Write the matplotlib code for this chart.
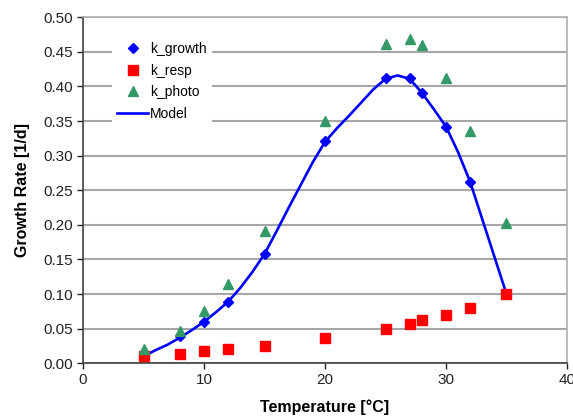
import matplotlib
matplotlib.use('Agg')
import matplotlib.pyplot as plt

plt.rcParams['font.family'] = ['Liberation Sans', 'DejaVu Sans']

# ---------------------- data ----------------------
temps = [5, 8, 10, 12, 15, 20, 25, 27, 28, 30, 32, 35]
k_growth = [0.010, 0.039, 0.060, 0.089, 0.158, 0.321, 0.412, 0.412, 0.391, 0.342, 0.262, 0.100]
k_resp = [0.010, 0.014, 0.018, 0.020, 0.025, 0.036, 0.050, 0.056, 0.062, 0.070, 0.080, 0.100]
k_photo = [0.021, 0.046, 0.075, 0.114, 0.191, 0.350, 0.462, 0.469, 0.460, 0.412, 0.335, 0.203]

# model curve (1 degree steps)
model_t = [5, 6, 7, 8, 9, 10, 11, 12, 13, 14, 15, 16, 17, 18, 19, 20,
           21, 22, 23, 24, 25, 26, 27, 28, 29, 30, 31, 32, 33, 34, 35]
model_v = [0.010, 0.019, 0.027, 0.037, 0.048, 0.060, 0.074, 0.089, 0.109, 0.132, 0.158,
           0.191, 0.225, 0.258, 0.291, 0.320, 0.340, 0.358, 0.377, 0.396, 0.411,
           0.416, 0.411, 0.391, 0.367, 0.342, 0.305, 0.262, 0.208, 0.154, 0.100]

x_ticks = [0, 10, 20, 30, 40]
y_ticks = [0.00, 0.05, 0.10, 0.15, 0.20, 0.25, 0.30, 0.35, 0.40, 0.45, 0.50]

# ---------------------- plot ----------------------
fig = plt.figure(figsize=(5.73, 4.18), dpi=100)
ax = fig.add_axes([0.145, 0.131, 0.8445, 0.8276])

ax.plot(model_t, model_v, color='#0000FF', lw=1.9, label='Model', zorder=3)
ax.plot(temps, k_growth, 'D', color='#0000FF', ms=5.5, ls='none', label='k_growth', zorder=4)
ax.plot(temps, k_resp, 's', color='#FF0000', ms=7, ls='none', label='k_resp', zorder=4)
ax.plot(temps, k_photo, '^', color='#339966', ms=7.5, ls='none', label='k_photo', zorder=4)

ax.set_xlim(0, 40)
ax.set_ylim(0, 0.5)
ax.set_xticks(x_ticks)
ax.set_yticks(y_ticks)
ax.set_yticklabels([f'{v:.2f}' for v in y_ticks])
ax.tick_params(axis='both', direction='out', length=4, width=1, labelsize=11,
               colors='#222222', pad=3)

ax.grid(axis='y', color='#A6A6A6', lw=1.5)
ax.set_axisbelow(True)
ax.spines['left'].set_color('#404040')
ax.spines['bottom'].set_color('#404040')
ax.spines['top'].set_color('#B0B0B0')
ax.spines['right'].set_color('#B0B0B0')
for s in ax.spines.values():
    s.set_linewidth(1.2)

ax.set_xlabel('Temperature [°C]', fontsize=11.5, fontweight='bold', labelpad=9)
ax.set_ylabel('Growth Rate [1/d]', fontsize=11.5, fontweight='bold', labelpad=10)

h, l = ax.get_legend_handles_labels()
order = [1, 2, 3, 0]
leg = ax.legend([h[i] for i in order], [l[i] for i in order],
                loc='upper left', bbox_to_anchor=(0.045, 0.965), fontsize=10,
                frameon=True, fancybox=False, edgecolor='none', facecolor='white',
                framealpha=1, numpoints=1, handlelength=2.2, handletextpad=0.15,
                labelspacing=0.55, borderpad=0.4)

fig.savefig('out.png', dpi=100)
